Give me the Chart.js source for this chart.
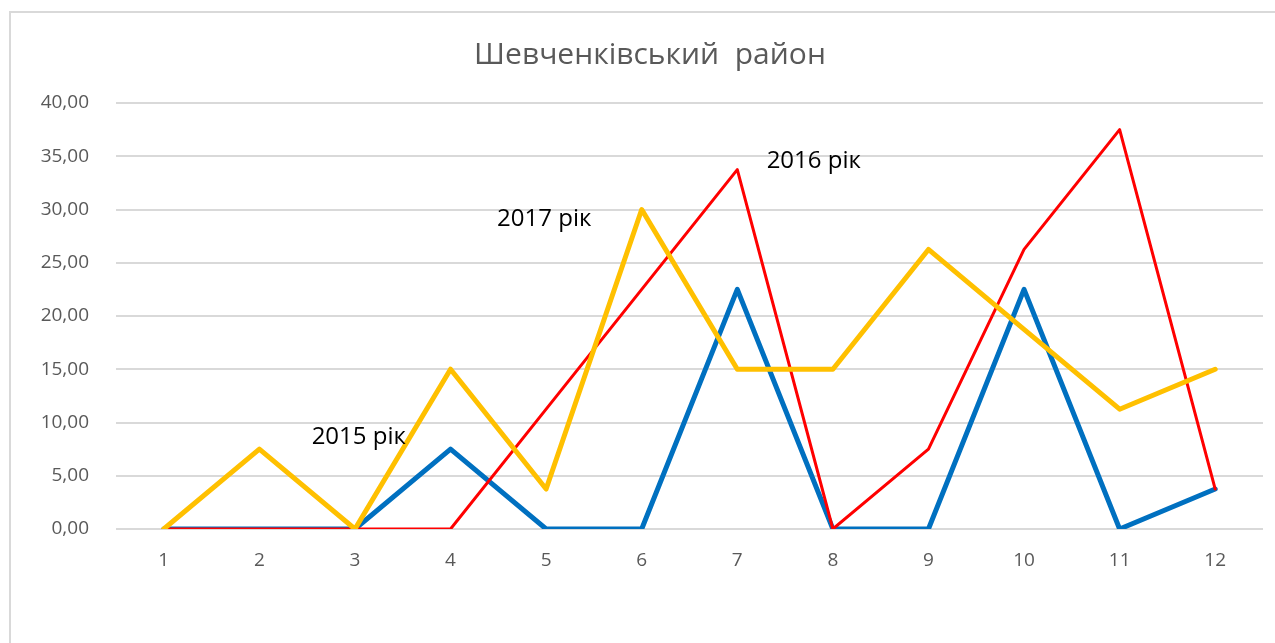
<!DOCTYPE html>
<html>
<head>
<meta charset="utf-8">
<script src="https://cdn.jsdelivr.net/npm/chart.js@4/dist/chart.umd.min.js"></script>
<style>
  body { margin: 0; background: #fff; overflow: hidden; }
  #frame { position: absolute; left: 9px; top: 11px; width: 1280px; height: 650px; border: 2px solid #d9d9d9; box-sizing: border-box; }
  #wrap { position: absolute; left: 0; top: 0; width: 1275px; height: 643px; }
</style>
</head>
<body>
<div id="frame"></div>
<div id="wrap"><canvas id="districtChart"></canvas></div>
<script>
// місяці
var months = ["1", "2", "3", "4", "5", "6", "7", "8", "9", "10", "11", "12"];

var values2015 = [0, 0, 0, 7.5, 0, 0, 22.5, 0, 0, 22.5, 0, 3.75];
var values2016 = [0, 0, 0, 0, 11.25, 22.5, 33.75, 0, 7.5, 26.25, 37.5, 3.75];
var values2017 = [0, 7.5, 0, 15, 3.75, 30, 15, 15, 26.25, 18.75, 11.25, 15];

// підписи рядів (позиція в одиницях осей)
var seriesNames = ["2015 рік", "2016 рік", "2017 рік"];
var labelAtX = [2.04, 6.8, 3.98];
var labelAtY = [8.6, 34.5, 29.1];

var yTicksMax = 40;
var yTicksStep = 5;

var seriesLabels = {
    id: 'seriesLabels',
    afterDatasetsDraw: function (chart) {
        var ctx = chart.ctx;
        var x = chart.scales.x, y = chart.scales.y;
        ctx.save();
        ctx.font = '24px "Open Sans", sans-serif';
        ctx.fillStyle = '#000';
        ctx.textAlign = 'center';
        ctx.textBaseline = 'middle';
        for (var i = 0; i < seriesNames.length; i++) {
            ctx.fillText(seriesNames[i], x.getPixelForValue(labelAtX[i]), y.getPixelForValue(labelAtY[i]));
        }
        ctx.restore();
    }
};

new Chart("districtChart", {
    type: "line",
    data: {
        labels: months,
        datasets: [
            { label: seriesNames[0], data: values2015, borderColor: "#0070c0", borderWidth: 5, order: 2 },
            { label: seriesNames[1], data: values2016, borderColor: "#ff0000", borderWidth: 3, order: 1 },
            { label: seriesNames[2], data: values2017, borderColor: "#ffc000", borderWidth: 5, order: 0 }
        ]
    },
    options: {
        responsive: true,
        maintainAspectRatio: false,
        animation: false,
        elements: { point: { radius: 0 }, line: { tension: 0, borderJoinStyle: 'round', borderCapStyle: 'round' } },
        layout: { padding: { left: 37, right: 12, top: 0, bottom: 0 } },
        plugins: {
            legend: { display: false },
            tooltip: { enabled: false },
            title: {
                display: true,
                text: "Шевченківський  район",
                color: "#595959",
                font: { family: '"Open Sans", sans-serif', size: 30, weight: 'normal' },
                padding: { top: 37, bottom: 30 }
            }
        },
        scales: {
            x: {
                offset: true,
                grid: { display: false },
                border: { display: false },
                ticks: { color: "#595959", font: { family: '"Open Sans", sans-serif', size: 19 }, padding: 12, maxRotation: 0 },
                afterFit: function (scale) { scale.height = 114; }
            },
            y: {
                min: 0,
                max: yTicksMax,
                grid: { color: "#d9d9d9", lineWidth: 2, drawTicks: false },
                border: { display: false },
                ticks: {
                    stepSize: yTicksStep,
                    color: "#595959",
                    font: { family: '"Open Sans", sans-serif', size: 19 },
                    padding: 27,
                    callback: function (v) { return v.toFixed(2).replace('.', ','); }
                },
                afterFit: function (scale) { scale.width = 79; }
            }
        }
    },
    plugins: [seriesLabels]
});
</script>
</body>
</html>
